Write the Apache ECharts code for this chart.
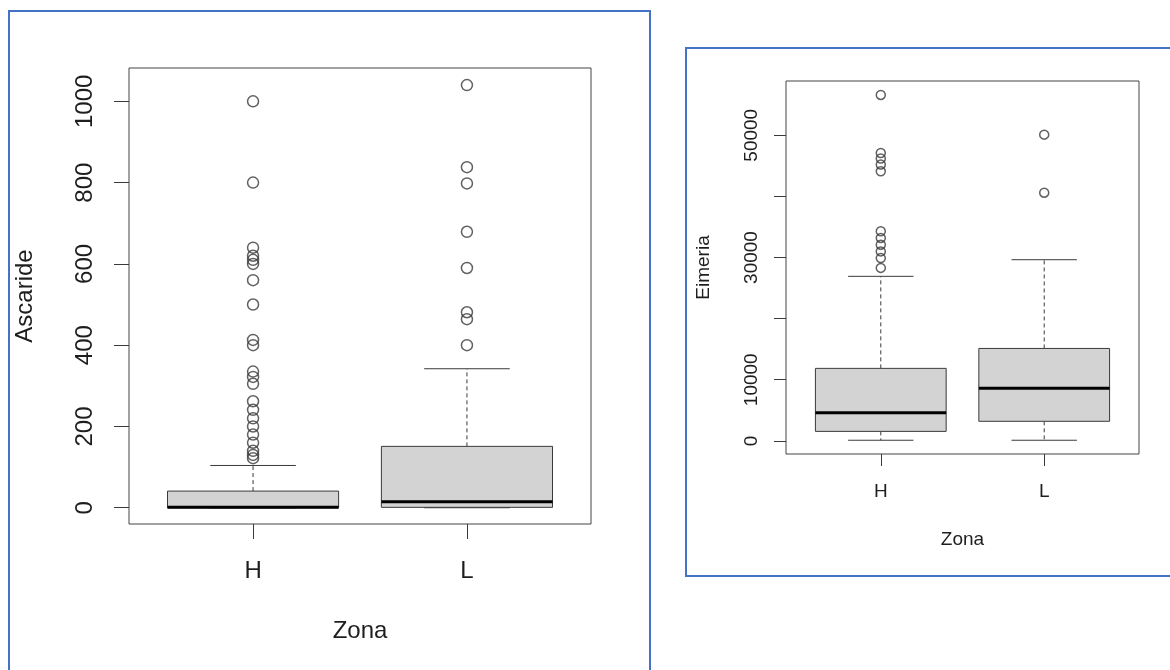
<!DOCTYPE html>
<html><head><meta charset="utf-8">
<script src="https://cdn.jsdelivr.net/npm/echarts@6/dist/echarts.min.js"></script>
<style>html,body{margin:0;padding:0;background:#fff}#c{width:1170px;height:670px}</style>
</head><body><div id="c"></div>
<script>
// ---------- data ----------
const categories = ['H', 'L'];
// box stats: [lower whisker, Q1, median, Q3, upper whisker]
const ascarideBoxH = [0, 0, 1, 41, 104];
const ascarideBoxL = [0, 1, 15, 151, 342];
const ascarideOutliersH = [1000, 800, 640, 620, 610, 600, 560, 500, 413, 400, 335, 322, 305, 262, 241, 220, 200, 180, 160, 140, 130, 122];
const ascarideOutliersL = [1040, 838, 798, 679, 590, 481, 464, 400];
const eimeriaBoxH = [100, 1550, 4580, 11860, 26920];
const eimeriaBoxL = [100, 3200, 8600, 15120, 29640];
const eimeriaOutliersH = [56600, 47100, 46200, 45200, 44100, 34300, 33200, 32100, 31000, 29900, 28300];
const eimeriaOutliersL = [50100, 40600];
const ascarideTicks = [0, 200, 400, 600, 800, 1000];
const eimeriaTicks = [0, 10000, 20000, 30000, 40000, 50000];
const eimeriaTickLabels = [0, 10000, 30000, 50000];
const xTicks = [1, 2];

// ---------- build ----------
const FONT = '"Liberation Sans", Arial, Helvetica, sans-serif';
const TXT = '#1e1e1e';
const STROKE = '#3a3a3a';

function renderBox(params, api) {
  const x = api.value(0);
  const pLow = api.coord([x, api.value(1)]);
  const pQ1 = api.coord([x, api.value(2)]);
  const pMed = api.coord([x, api.value(3)]);
  const pQ3 = api.coord([x, api.value(4)]);
  const pHigh = api.coord([x, api.value(5)]);
  const w = api.size([0.8, 0])[0];
  const cx = pMed[0];
  const cap = w / 4;
  const dash = {stroke: STROKE, lineWidth: 1, lineDash: [4, 3]};
  const solid = {stroke: STROKE, lineWidth: 1};
  return {type: 'group', children: [
    {type: 'line', shape: {x1: cx, y1: pQ3[1], x2: cx, y2: pHigh[1]}, style: dash},
    {type: 'line', shape: {x1: cx, y1: pQ1[1], x2: cx, y2: pLow[1]}, style: dash},
    {type: 'line', shape: {x1: cx - cap, y1: pHigh[1], x2: cx + cap, y2: pHigh[1]}, style: solid},
    {type: 'line', shape: {x1: cx - cap, y1: pLow[1], x2: cx + cap, y2: pLow[1]}, style: solid},
    {type: 'rect', shape: {x: cx - w / 2, y: pQ3[1], width: w, height: pQ1[1] - pQ3[1]}, style: {fill: '#d3d3d3', stroke: STROKE, lineWidth: 1}},
    {type: 'line', shape: {x1: cx - w / 2, y1: pMed[1], x2: cx + w / 2, y2: pMed[1]}, style: {stroke: '#000', lineWidth: 3}}
  ]};
}

function boxData(boxes) { return boxes.map((b, i) => [i + 1].concat(b)); }
function outlierData(idx, vals) { return vals.map(v => [idx, v]); }

function xAxisFor(gi, fs, tickLen, margin, nameGap) {
  return {
    gridIndex: gi, type: 'value', min: 0.42, max: 2.58,
    splitLine: {show: false}, axisLine: {show: false, onZero: false},
    axisTick: {show: true, customValues: xTicks, length: tickLen, lineStyle: {color: STROKE, width: 1}},
    axisLabel: {customValues: xTicks, formatter: v => categories[Math.round(v) - 1], fontSize: fs, fontFamily: FONT, color: TXT, margin: margin},
    name: 'Zona', nameLocation: 'middle', nameGap: nameGap,
    nameTextStyle: {fontSize: fs, fontFamily: FONT, color: TXT}
  };
}
function yAxisFor(gi, name, min, max, ticks, labels, fs, tickLen, margin, nameGap) {
  return {
    gridIndex: gi, type: 'value', min: min, max: max,
    splitLine: {show: false}, axisLine: {show: false, onZero: false},
    axisTick: {show: true, customValues: ticks, length: tickLen, lineStyle: {color: STROKE, width: 1}},
    axisLabel: {customValues: labels, formatter: v => String(v), rotate: 90, fontSize: fs, fontFamily: FONT, color: TXT, margin: margin},
    name: name, nameLocation: 'middle', nameGap: nameGap,
    nameTextStyle: {fontSize: fs, fontFamily: FONT, color: TXT}
  };
}

const outlierStyle = {color: 'rgba(0,0,0,0)', borderColor: STROKE, borderWidth: 1.5};

const option = {
  backgroundColor: '#fff',
  animation: false,
  graphic: [
    {type: 'rect', shape: {x: 9, y: 11, width: 641, height: 700}, style: {fill: 'none', stroke: '#4472c4', lineWidth: 2}},
    {type: 'rect', shape: {x: 686, y: 48, width: 520, height: 528}, style: {fill: 'none', stroke: '#4472c4', lineWidth: 2}}
  ],
  grid: [
    {left: 129, top: 68, width: 462, height: 456, show: true, borderColor: '#444', borderWidth: 1, backgroundColor: 'transparent'},
    {left: 786, top: 81, width: 353, height: 373, show: true, borderColor: '#444', borderWidth: 1, backgroundColor: 'transparent'}
  ],
  xAxis: [
    xAxisFor(0, 24, 15, 35, 95),
    xAxisFor(1, 19, 12, 28, 76)
  ],
  yAxis: [
    yAxisFor(0, 'Ascaride', -40, 1082, ascarideTicks, ascarideTicks, 24, 15, 32, 92),
    yAxisFor(1, 'Eimeria', -2150, 58880, eimeriaTicks, eimeriaTickLabels, 19, 12, 25, 73)
  ],
  series: [
    {type: 'custom', xAxisIndex: 0, yAxisIndex: 0, renderItem: renderBox, data: boxData([ascarideBoxH, ascarideBoxL]), z: 2},
    {type: 'scatter', xAxisIndex: 0, yAxisIndex: 0, symbol: 'circle', symbolSize: 11, itemStyle: outlierStyle, data: outlierData(1, ascarideOutliersH).concat(outlierData(2, ascarideOutliersL)), z: 3},
    {type: 'custom', xAxisIndex: 1, yAxisIndex: 1, renderItem: renderBox, data: boxData([eimeriaBoxH, eimeriaBoxL]), z: 2},
    {type: 'scatter', xAxisIndex: 1, yAxisIndex: 1, symbol: 'circle', symbolSize: 9, itemStyle: outlierStyle, data: outlierData(1, eimeriaOutliersH).concat(outlierData(2, eimeriaOutliersL)), z: 3}
  ]
};

const chart = echarts.init(document.getElementById('c'), null, {renderer: 'canvas'});
chart.setOption(option);
</script>
</body></html>
